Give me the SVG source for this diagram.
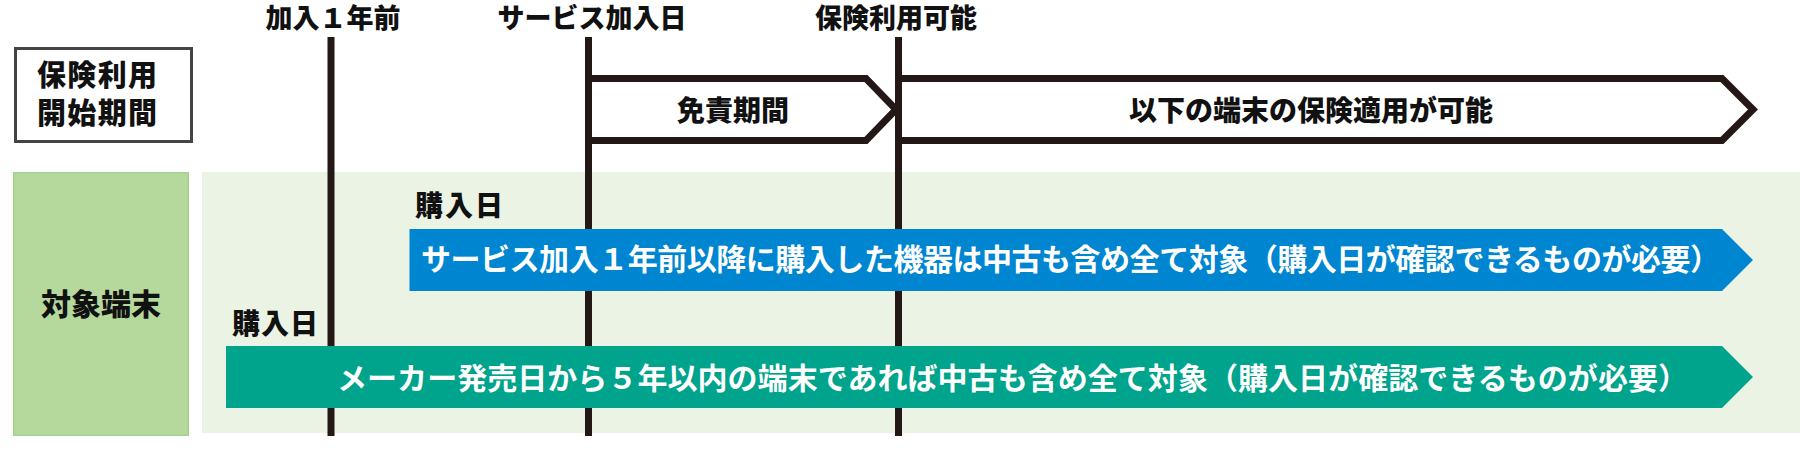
<svg xmlns="http://www.w3.org/2000/svg" width="1800" height="473" viewBox="0 0 1800 473">
<style>
.t{font-family:"Noto Sans CJK JP","Noto Sans",sans-serif;font-weight:900;fill:#111;}
.w{font-family:"Noto Sans CJK JP","Noto Sans",sans-serif;font-weight:700;fill:#fff;font-size:30px;}
.vl{stroke:#231815;stroke-width:7;fill:none;}
.top{stroke:#231815;stroke-width:7;fill:#fff;stroke-linejoin:miter;}
</style>
<rect width="1800" height="473" fill="#fff"/>
<g id="label-period">
<rect x="15.5" y="48.5" width="176" height="93" fill="#fff" stroke="#444" stroke-width="3"/>
<text class="t" x="37" y="85.5" font-size="29" textLength="120">保険利用</text>
<text class="t" x="37" y="124" font-size="29" textLength="120">開始期間</text>
</g>
<g id="label-target">
<rect x="13.75" y="172.75" width="174.5" height="262.5" fill="#b5d99c" stroke="#a6d18b" stroke-width="1.5"/>
<text class="t" x="101" y="315" font-size="30" text-anchor="middle">対象端末</text>
</g>
<rect id="target-bg" x="202" y="172" width="1598" height="261" fill="#ebf4e4"/>
<g id="arrow-exempt">
<path class="top" d="M588.5,78.5 H866 L896,109.5 L866,140.5 H588.5"/>
<text class="t" x="733" y="121" font-size="28" text-anchor="middle">免責期間</text>
</g>
<g id="arrow-available">
<path class="top" d="M898.5,78.5 H1722 L1753,109.5 L1722,140.5 H898.5"/>
<text class="t" x="1311" y="121" font-size="28" text-anchor="middle">以下の端末の保険適用が可能</text>
</g>
<g id="connectors">
<line class="vl" x1="331" y1="37" x2="331" y2="436"/>
<line class="vl" x1="588.5" y1="37" x2="588.5" y2="436"/>
<line class="vl" x1="898.5" y1="37" x2="898.5" y2="436"/>
</g>
<g id="milestones">
<text class="t" x="333" y="27.5" font-size="27" text-anchor="middle">加入１年前</text>
<text class="t" x="592" y="27.5" font-size="27" text-anchor="middle">サービス加入日</text>
<text class="t" x="896" y="27.5" font-size="27" text-anchor="middle">保険利用可能</text>
</g>
<g id="arrow-blue">
<text class="t" x="415" y="215.5" font-size="28" textLength="88">購入日</text>
<path d="M409.5,229 H1722 L1753,260 L1722,291 H409.5 Z" fill="#0086d1"/>
<text class="w" x="421" y="269.5" textLength="1299">サービス加入１年前以降に購入した機器は中古も含め全て対象（購入日が確認できるものが必要）</text>
</g>
<g id="arrow-green">
<text class="t" x="232" y="333.5" font-size="28" textLength="86">購入日</text>
<path d="M226,346 H1722 L1753,377 L1722,408 H226 Z" fill="#00a38b"/>
<text class="w" x="337" y="389" textLength="1351">メーカー発売日から５年以内の端末であれば中古も含め全て対象（購入日が確認できるものが必要）</text>
</g>
</svg>
